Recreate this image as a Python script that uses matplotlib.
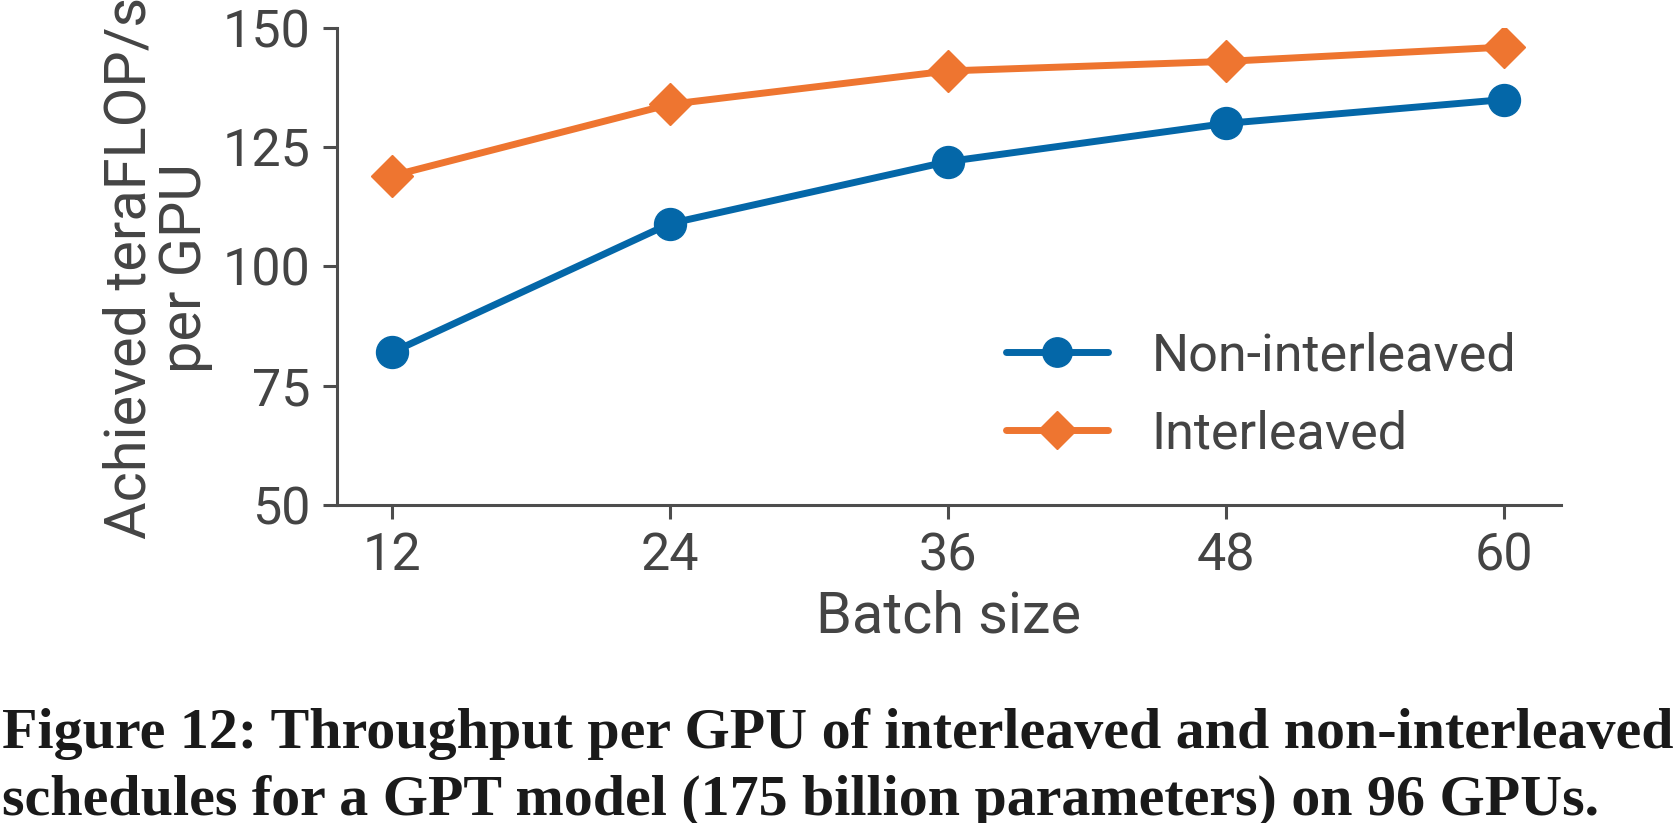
import matplotlib
matplotlib.use("Agg")
import matplotlib.pyplot as plt

# ---- data ----
batch_sizes = [12, 24, 36, 48, 60]
non_interleaved = [82, 109, 122, 130, 135]
interleaved = [119, 134, 141, 143, 146]
series_labels = ["Non-interleaved", "Interleaved"]
y_ticks = [50, 75, 100, 125, 150]
x_label = "Batch size"
y_label = "Achieved teraFLOP/s\nper GPU"
caption_lines = [
    "Figure 12: Throughput per GPU of interleaved and non-interleaved",
    "schedules for a GPT model (175 billion parameters) on 96 GPUs.",
]

W, H = 1674, 823
DPI = 100
BLUE = "#0467a8"
ORANGE = "#ee7530"
TXT = "#444444"
SPINE = "#4d4d4d"

plt.rcParams["font.family"] = ["Roboto", "DejaVu Sans"]
fig = plt.figure(figsize=(W / DPI, H / DPI), dpi=DPI)

def fx(px):
    return px / W

def fy(py):
    return 1 - py / H

ax_l, ax_r, ax_t, ax_b = 337, 1561, 28, 505
ax = fig.add_axes([fx(ax_l), fy(ax_b), fx(ax_r - ax_l), (ax_b - ax_t) / H])

ax.plot(batch_sizes, non_interleaved, color=BLUE, lw=5, marker="o", ms=23,
        solid_capstyle="round", label=series_labels[0], zorder=3)
ax.plot(batch_sizes, interleaved, color=ORANGE, lw=5, marker="D", ms=21,
        solid_capstyle="round", label=series_labels[1], zorder=3)

ax.set_xlim(9.63, 62.45)
ax.set_ylim(50, 150)
ax.set_xticks(batch_sizes)
ax.set_yticks(y_ticks)
for s in ["top", "right"]:
    ax.spines[s].set_visible(False)
for s in ["left", "bottom"]:
    ax.spines[s].set_color(SPINE)
    ax.spines[s].set_linewidth(2.2)
ax.tick_params(axis="both", colors=SPINE, width=2.2, length=10, pad=9,
               labelsize=37.5, labelcolor=TXT)
for lab in ax.get_xticklabels() + ax.get_yticklabels():
    lab.set_clip_on(False)
ax.patch.set_alpha(0)

ax.set_xlabel(x_label, fontsize=41.5, color=TXT, labelpad=6)

fig.text(fx(158), fy(268), y_label, rotation=90, ha="center", va="center",
         multialignment="center", fontsize=41.5, color=TXT, linespacing=1.0)

leg = ax.legend(loc="upper left", bbox_to_anchor=(fx(1006), fy(331)),
                bbox_transform=fig.transFigure, frameon=False, fontsize=37.5,
                handlelength=1.95, handletextpad=0.85, labelspacing=0.55,
                borderpad=0, borderaxespad=0, markerscale=0.92)
for t in leg.get_texts():
    t.set_color(TXT)

# caption
cap_font = ["Liberation Serif", "DejaVu Serif"]
t1 = fig.text(fx(2), fy(748), caption_lines[0], ha="left", va="baseline",
              fontsize=40, fontweight="bold", family=cap_font, color="#1a1a1a")
t2 = fig.text(fx(2), fy(815), caption_lines[1], ha="left", va="baseline",
              fontsize=40, fontweight="bold", family=cap_font, color="#1a1a1a")
fig.canvas.draw()
r = fig.canvas.get_renderer()
w1 = t1.get_window_extent(r).width
scale = (1670 - 2) / w1
for t in (t1, t2):
    t.set_fontsize(40 * scale)

fig.savefig("out.png", dpi=DPI)
